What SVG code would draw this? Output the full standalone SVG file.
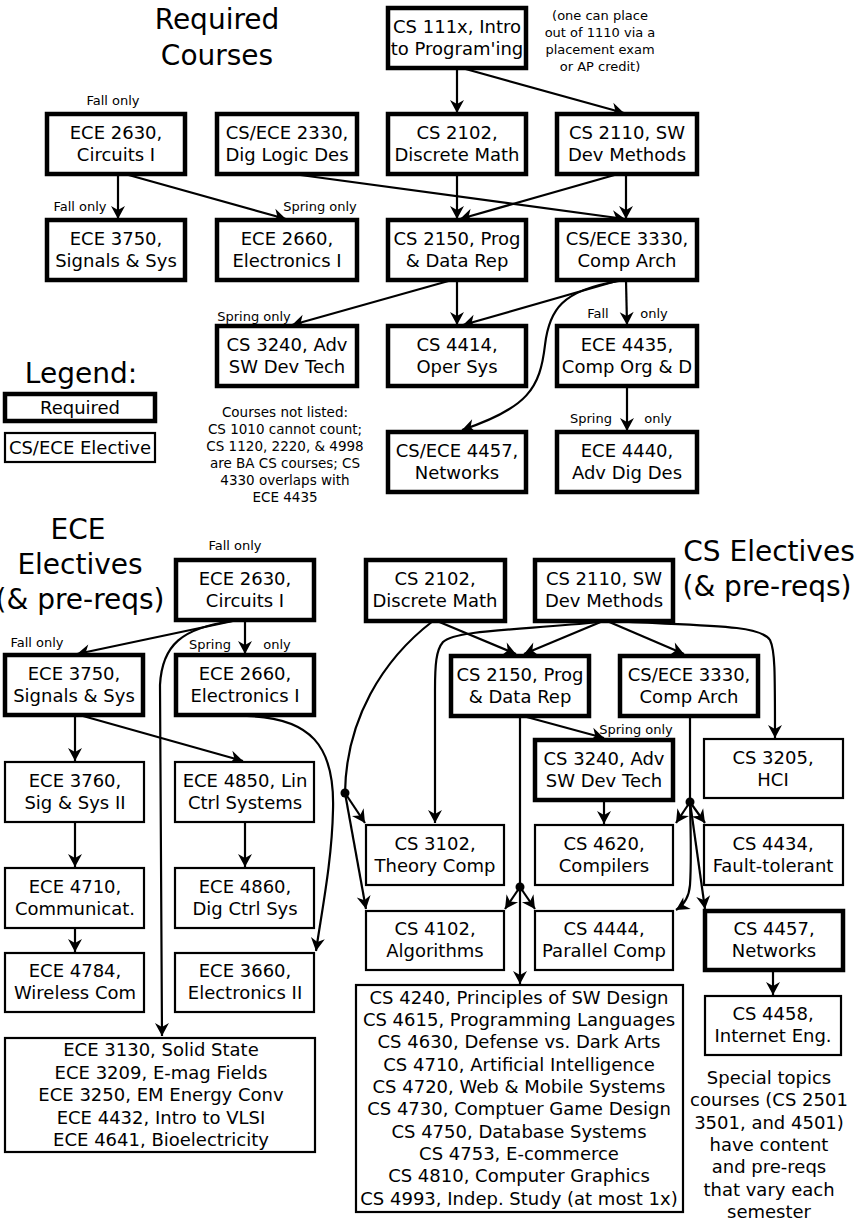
<svg xmlns="http://www.w3.org/2000/svg" width="865" height="1220" viewBox="0 0 865 1220">
<defs>
<style>
text{font-family:"DejaVu Sans","Liberation Sans",sans-serif;fill:#000;text-anchor:middle}
.t{font-size:18px}
.s{font-size:13px}
.h{font-size:28px}
.n{font-size:13.5px}
.req{fill:#fff;stroke:#000;stroke-width:4.5}
.el{fill:#fff;stroke:#000;stroke-width:2.2}
.c{fill:none;stroke:#000;stroke-width:2.2;marker-end:url(#ah)}
.l{fill:none;stroke:#000;stroke-width:2.2}
</style>
<marker id="ah" markerUnits="userSpaceOnUse" viewBox="-14 -8 15 16" refX="0" refY="0" markerWidth="15" markerHeight="16" orient="auto">
<path d="M0,0 L-13,-7 L-9,0 L-13,7 Z" fill="#000"/>
</marker>
</defs>

<g id="titles">
<text class="h" x="217" y="29">Required</text>
<text class="h" x="217" y="65">Courses</text>
<text class="h" x="81" y="383">Legend:</text>
<text class="h" x="78" y="539">ECE</text>
<text class="h" x="80" y="574">Electives</text>
<text class="h" x="80" y="609">(&amp; pre-reqs)</text>
<text class="h" x="769" y="561">CS Electives</text>
<text class="h" x="767" y="596">(&amp; pre-reqs)</text>
</g>

<g id="notes">
<text class="s" x="600" y="20">(one can place</text>
<text class="s" x="600" y="37">out of 1110 via a</text>
<text class="s" x="600" y="54">placement exam</text>
<text class="s" x="600" y="71">or AP credit)</text>
<text class="n" x="285" y="417">Courses not listed:</text>
<text class="n" x="285" y="434">CS 1010 cannot count;</text>
<text class="n" x="285" y="451">CS 1120, 2220, &amp; 4998</text>
<text class="n" x="285" y="468">are BA CS courses; CS</text>
<text class="n" x="285" y="485">4330 overlaps with</text>
<text class="n" x="285" y="502">ECE 4435</text>
<text class="t" x="769" y="1084">Special topics</text>
<text class="t" x="769" y="1106">courses (CS 2501</text>
<text class="t" x="769" y="1129">3501, and 4501)</text>
<text class="t" x="769" y="1151">have content</text>
<text class="t" x="769" y="1173">and pre-reqs</text>
<text class="t" x="769" y="1196">that vary each</text>
<text class="t" x="769" y="1218">semester</text>
</g>

<g id="labels">
<text class="s" x="113" y="105">Fall only</text>
<text class="s" x="80" y="211">Fall only</text>
<text class="s" x="320" y="211">Spring only</text>
<text class="s" x="254" y="321">Spring only</text>
<text class="s" x="598" y="318">Fall</text>
<text class="s" x="654" y="318">only</text>
<text class="s" x="591" y="423">Spring</text>
<text class="s" x="658" y="423">only</text>
<text class="s" x="235" y="550">Fall only</text>
<text class="s" x="37" y="647">Fall only</text>
<text class="s" x="210" y="649">Spring</text>
<text class="s" x="277" y="649">only</text>
<text class="s" x="636" y="734">Spring only</text>
</g>

<g id="legend">
<rect class="req" x="5" y="394" width="150" height="27"/>
<text class="t" x="80" y="414">Required</text>
<rect class="el" x="5" y="433" width="150" height="29"/>
<text class="t" x="80" y="454">CS/ECE Elective</text>
</g>

<g id="connectors">
<!-- top -->
<path class="c" d="M457,68 L457,113"/>
<path class="c" d="M462,68 L624,113"/>
<path class="c" d="M118,174 L118,219"/>
<path class="c" d="M125,174 L286,219"/>
<path class="c" d="M293,174 L625,219"/>
<path class="c" d="M457,174 L457,219"/>
<path class="c" d="M618,174 L460,219"/>
<path class="c" d="M626,174 L626,219"/>
<path class="c" d="M452,280 L292,325"/>
<path class="c" d="M457,280 L457,325"/>
<path class="c" d="M620,280 L463,325"/>
<path class="c" d="M619,281 C562,290 549,310 545,345 C540,388 528,408 462,430"/>
<path class="c" d="M626,280 L627,325"/>
<path class="c" d="M627,387 L627,431"/>
<!-- ECE electives -->
<path class="c" d="M233,621 L77,654"/>
<path class="c" d="M245,621 L245,654"/>
<path class="c" d="M232,621 C182,628 162,645 160,685 L162,1036"/>
<path class="c" d="M75,716 L75,761"/>
<path class="c" d="M83,716 L243,761"/>
<path class="c" d="M247,716 C310,718 335,745 333,810 C332,860 322,910 316,951"/>
<path class="c" d="M75,822 L75,867"/>
<path class="c" d="M75,928 L75,952"/>
<path class="c" d="M245,822 L245,867"/>
<!-- CS electives -->
<path class="l" d="M433,621 C382,660 346,720 345,793"/>
<path class="c" d="M345,793 L365,823"/>
<path class="c" d="M345,793 L366,909"/>
<path class="c" d="M437,621 L516,654"/>
<path class="c" d="M603,621 L524,654"/>
<path class="c" d="M600,622 C520,630 455,630 443,642 C436,650 435,665 435,690 L435,823"/>
<path class="c" d="M607,621 L684,654"/>
<path class="c" d="M609,621 C700,626 760,624 770,640 C775,650 775,670 775,738"/>
<path class="c" d="M520,716 L520,984"/>
<path class="c" d="M523,716 L604,738"/>
<path class="c" d="M520,887 L505,909"/>
<path class="c" d="M520,887 L535,909"/>
<path class="c" d="M604,800 L604,824"/>
<path class="l" d="M690,716 L690,802"/>
<path class="c" d="M690,802 L676,823"/>
<path class="c" d="M690,802 L705,823"/>
<path class="c" d="M690,802 C691,840 691,870 690,885 C689,898 684,905 676,910"/>
<path class="c" d="M690,802 L705,909"/>
<path class="c" d="M773,971 L773,995"/>
<circle cx="345" cy="793" r="4.5" fill="#000"/>
<circle cx="520" cy="887" r="4.5" fill="#000"/>
<circle cx="690" cy="802" r="4.5" fill="#000"/>
</g>

<!-- required section nodes -->
<g id="cs111x"><rect class="req" x="388" y="8" width="138" height="60"/><text class="t" x="457" y="33">CS 111x, Intro</text><text class="t" x="457" y="55">to Program'ing</text></g>
<g id="r-ece2630"><rect class="req" x="47" y="114" width="138" height="60"/><text class="t" x="116" y="139">ECE 2630,</text><text class="t" x="116" y="161">Circuits I</text></g>
<g id="r-cs2330"><rect class="req" x="217" y="114" width="140" height="60"/><text class="t" x="287" y="139">CS/ECE 2330,</text><text class="t" x="287" y="161">Dig Logic Des</text></g>
<g id="r-cs2102"><rect class="req" x="388" y="114" width="138" height="60"/><text class="t" x="457" y="139">CS 2102,</text><text class="t" x="457" y="161">Discrete Math</text></g>
<g id="r-cs2110"><rect class="req" x="557" y="114" width="140" height="60"/><text class="t" x="627" y="139">CS 2110, SW</text><text class="t" x="627" y="161">Dev Methods</text></g>
<g id="r-ece3750"><rect class="req" x="47" y="220" width="138" height="60"/><text class="t" x="116" y="245">ECE 3750,</text><text class="t" x="116" y="267">Signals &amp; Sys</text></g>
<g id="r-ece2660"><rect class="req" x="217" y="220" width="140" height="60"/><text class="t" x="287" y="245">ECE 2660,</text><text class="t" x="287" y="267">Electronics I</text></g>
<g id="r-cs2150"><rect class="req" x="388" y="220" width="138" height="60"/><text class="t" x="457" y="245">CS 2150, Prog</text><text class="t" x="457" y="267">&amp; Data Rep</text></g>
<g id="r-cs3330"><rect class="req" x="557" y="220" width="140" height="60"/><text class="t" x="627" y="245">CS/ECE 3330,</text><text class="t" x="627" y="267">Comp Arch</text></g>
<g id="r-cs3240"><rect class="req" x="217" y="326" width="140" height="60"/><text class="t" x="287" y="351">CS 3240, Adv</text><text class="t" x="287" y="373">SW Dev Tech</text></g>
<g id="r-cs4414"><rect class="req" x="388" y="326" width="138" height="60"/><text class="t" x="457" y="351">CS 4414,</text><text class="t" x="457" y="373">Oper Sys</text></g>
<g id="r-ece4435"><rect class="req" x="557" y="326" width="140" height="60"/><text class="t" x="627" y="351">ECE 4435,</text><text class="t" x="627" y="373">Comp Org &amp; D</text></g>
<g id="r-cs4457"><rect class="req" x="388" y="432" width="138" height="60"/><text class="t" x="457" y="457">CS/ECE 4457,</text><text class="t" x="457" y="479">Networks</text></g>
<g id="r-ece4440"><rect class="req" x="557" y="432" width="140" height="60"/><text class="t" x="627" y="457">ECE 4440,</text><text class="t" x="627" y="479">Adv Dig Des</text></g>

<!-- ECE electives nodes -->
<g id="e-ece2630"><rect class="req" x="176" y="560" width="138" height="60"/><text class="t" x="245" y="585">ECE 2630,</text><text class="t" x="245" y="607">Circuits I</text></g>
<g id="e-ece3750"><rect class="req" x="5" y="655" width="138" height="60"/><text class="t" x="74" y="680">ECE 3750,</text><text class="t" x="74" y="702">Signals &amp; Sys</text></g>
<g id="e-ece2660"><rect class="req" x="176" y="655" width="138" height="60"/><text class="t" x="245" y="680">ECE 2660,</text><text class="t" x="245" y="702">Electronics I</text></g>
<g id="e-ece3760"><rect class="el" x="5" y="762" width="139" height="60"/><text class="t" x="75" y="787">ECE 3760,</text><text class="t" x="75" y="809">Sig &amp; Sys II</text></g>
<g id="e-ece4850"><rect class="el" x="175" y="762" width="139" height="60"/><text class="t" x="245" y="787">ECE 4850, Lin</text><text class="t" x="245" y="809">Ctrl Systems</text></g>
<g id="e-ece4710"><rect class="el" x="5" y="868" width="139" height="60"/><text class="t" x="75" y="893">ECE 4710,</text><text class="t" x="75" y="915">Communicat.</text></g>
<g id="e-ece4860"><rect class="el" x="175" y="868" width="139" height="60"/><text class="t" x="245" y="893">ECE 4860,</text><text class="t" x="245" y="915">Dig Ctrl Sys</text></g>
<g id="e-ece4784"><rect class="el" x="5" y="953" width="139" height="59"/><text class="t" x="75" y="977">ECE 4784,</text><text class="t" x="75" y="999">Wireless Com</text></g>
<g id="e-ece3660"><rect class="el" x="175" y="953" width="139" height="59"/><text class="t" x="245" y="977">ECE 3660,</text><text class="t" x="245" y="999">Electronics II</text></g>
<g id="e-list"><rect class="el" x="5" y="1038" width="310" height="114"/>
<text class="t" x="161" y="1056">ECE 3130, Solid State</text>
<text class="t" x="161" y="1078.5">ECE 3209, E-mag Fields</text>
<text class="t" x="161" y="1101">ECE 3250, EM Energy Conv</text>
<text class="t" x="161" y="1123.5">ECE 4432, Intro to VLSI</text>
<text class="t" x="161" y="1146">ECE 4641, Bioelectricity</text></g>

<!-- CS electives nodes -->
<g id="c-cs2102"><rect class="req" x="366" y="560" width="139" height="61"/><text class="t" x="435" y="585">CS 2102,</text><text class="t" x="435" y="607">Discrete Math</text></g>
<g id="c-cs2110"><rect class="req" x="535" y="560" width="138" height="61"/><text class="t" x="604" y="585">CS 2110, SW</text><text class="t" x="604" y="607">Dev Methods</text></g>
<g id="c-cs2150"><rect class="req" x="451" y="656" width="138" height="60"/><text class="t" x="520" y="681">CS 2150, Prog</text><text class="t" x="520" y="703">&amp; Data Rep</text></g>
<g id="c-cs3330"><rect class="req" x="620" y="656" width="138" height="60"/><text class="t" x="689" y="681">CS/ECE 3330,</text><text class="t" x="689" y="703">Comp Arch</text></g>
<g id="c-cs3240"><rect class="req" x="535" y="740" width="138" height="60"/><text class="t" x="604" y="765">CS 3240, Adv</text><text class="t" x="604" y="787">SW Dev Tech</text></g>
<g id="c-cs3205"><rect class="el" x="704" y="739" width="139" height="59"/><text class="t" x="773" y="764">CS 3205,</text><text class="t" x="773" y="786">HCI</text></g>
<g id="c-cs3102"><rect class="el" x="366" y="825" width="138" height="60"/><text class="t" x="435" y="850">CS 3102,</text><text class="t" x="435" y="872">Theory Comp</text></g>
<g id="c-cs4620"><rect class="el" x="535" y="825" width="138" height="60"/><text class="t" x="604" y="850">CS 4620,</text><text class="t" x="604" y="872">Compilers</text></g>
<g id="c-cs4434"><rect class="el" x="704" y="825" width="139" height="60"/><text class="t" x="773" y="850">CS 4434,</text><text class="t" x="773" y="872">Fault-tolerant</text></g>
<g id="c-cs4102"><rect class="el" x="366" y="911" width="138" height="59"/><text class="t" x="435" y="935">CS 4102,</text><text class="t" x="435" y="957">Algorithms</text></g>
<g id="c-cs4444"><rect class="el" x="535" y="911" width="138" height="59"/><text class="t" x="604" y="935">CS 4444,</text><text class="t" x="604" y="957">Parallel Comp</text></g>
<g id="c-cs4457"><rect class="req" x="705" y="911" width="138" height="59"/><text class="t" x="774" y="935">CS 4457,</text><text class="t" x="774" y="957">Networks</text></g>
<g id="c-cs4458"><rect class="el" x="705" y="996" width="136" height="59"/><text class="t" x="773" y="1020">CS 4458,</text><text class="t" x="773" y="1042">Internet Eng.</text></g>
<g id="c-list"><rect class="el" x="356" y="985" width="327" height="227"/>
<text class="t" x="519" y="1003.5">CS 4240, Principles of SW Design</text>
<text class="t" x="519" y="1026">CS 4615, Programming Languages</text>
<text class="t" x="519" y="1048">CS 4630, Defense vs. Dark Arts</text>
<text class="t" x="519" y="1070.5">CS 4710, Artificial Intelligence</text>
<text class="t" x="519" y="1093">CS 4720, Web &amp; Mobile Systems</text>
<text class="t" x="519" y="1115">CS 4730, Comptuer Game Design</text>
<text class="t" x="519" y="1137.5">CS 4750, Database Systems</text>
<text class="t" x="519" y="1160">CS 4753, E-commerce</text>
<text class="t" x="519" y="1182">CS 4810, Computer Graphics</text>
<text class="t" x="519" y="1204.5">CS 4993, Indep. Study (at most 1x)</text></g>
</svg>
